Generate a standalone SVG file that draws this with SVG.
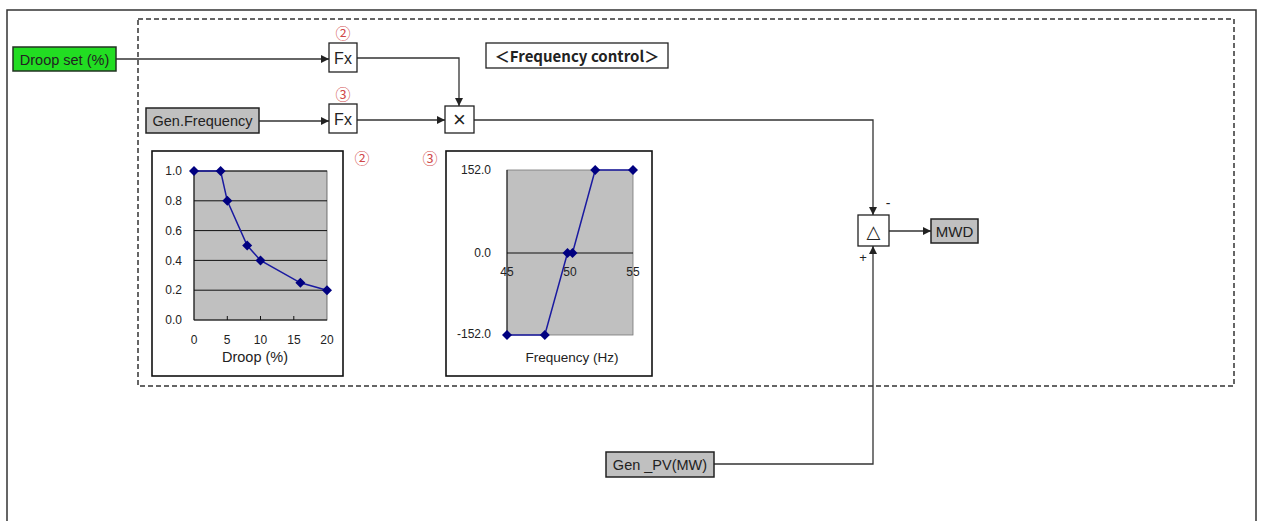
<svg xmlns="http://www.w3.org/2000/svg" width="1261" height="521" viewBox="0 0 1261 521">
<style>
text{font-family:"Liberation Sans",Arial,sans-serif;fill:#222}
.blk{fill:#fff;stroke:#222;stroke-width:1.3}
.gry{fill:#c0c0c0;stroke:#222;stroke-width:1.5}
.lbl{font-size:14.5px;text-anchor:middle}
.num{font-family:"Noto Sans CJK JP","DejaVu Sans",sans-serif;font-size:15px;fill:#d04848;text-anchor:middle}
.con{fill:none;stroke:#333;stroke-width:1.3}
.tk{font-size:12px}
.grid{stroke:#111;stroke-width:1}
.curve{fill:none;stroke:#1a1aa0;stroke-width:1.5}
.frame{fill:#fff;stroke:#111;stroke-width:1.6}
</style>
<defs>
<marker id="arr" viewBox="0 0 10 10" refX="10" refY="5" markerWidth="8" markerHeight="8" markerUnits="userSpaceOnUse" orient="auto">
<path d="M0,0 L10,5 L0,10 z" fill="#222"/>
</marker>
<path id="dia" d="M0,-5 L5,0 L0,5 L-5,0 z" fill="#000080"/>
</defs>
<rect width="1261" height="521" fill="#fff"/>
<g id="outer-frame"><path d="M7,525 V10 H1256 V525" fill="none" stroke="#333" stroke-width="1.5"/></g>
<g id="frequency-area"><rect x="138" y="19" width="1096" height="367" fill="none" stroke="#333" stroke-width="1.5" stroke-dasharray="5,3"/></g>
<g id="title"><rect x="486" y="43" width="182" height="25" fill="#fff" stroke="#222" stroke-width="1.3"/><text x="577" y="61.5" font-size="15" font-weight="bold" text-anchor="middle" style="font-family:'Noto Sans CJK JP','DejaVu Sans',sans-serif">＜Frequency control＞</text></g>
<g id="connectors">
<path class="con" d="M116,59 H329" marker-end="url(#arr)"/>
<path class="con" d="M259,121 H329" marker-end="url(#arr)"/>
<path class="con" d="M357,58 H459 V106" marker-end="url(#arr)"/>
<path class="con" d="M357,120 H445" marker-end="url(#arr)"/>
<path class="con" d="M474,120 H873 V215" marker-end="url(#arr)"/>
<path class="con" d="M889,231 H931" marker-end="url(#arr)"/>
<path class="con" d="M714,464 H873 V246" marker-end="url(#arr)"/>
</g>
<g id="droop-set"><rect x="13" y="47" width="103" height="24" fill="#22dd22" stroke="#223322" stroke-width="1.5"/><text class="lbl" x="64.5" y="64.5">Droop set (%)</text></g>
<g id="gen-frequency"><rect class="gry" x="146" y="108" width="113" height="25"/><text class="lbl" x="202.5" y="126">Gen.Frequency</text></g>
<g id="fx1"><rect class="blk" x="329" y="43" width="28" height="29"/><text x="343" y="63.5" font-size="16" text-anchor="middle">Fx</text><text class="num" x="343" y="39">②</text></g>
<g id="fx2"><rect class="blk" x="329" y="104" width="28" height="29"/><text x="343" y="124.5" font-size="16" text-anchor="middle">Fx</text><text class="num" x="343" y="100">③</text></g>
<g id="multiply"><rect class="blk" x="445" y="106" width="29" height="27"/><text x="459.5" y="127" font-size="22" text-anchor="middle">×</text></g>
<g id="delta"><rect class="blk" x="858" y="215" width="31" height="31"/><text x="873.5" y="238" font-size="18" text-anchor="middle" style="font-family:'DejaVu Sans',sans-serif">△</text><text x="888" y="208" font-size="14" text-anchor="middle">-</text><text x="863" y="262" font-size="13" text-anchor="middle">+</text></g>
<g id="mwd"><rect class="gry" x="931" y="219" width="47" height="24"/><text class="lbl" x="954.5" y="236.5" style="font-size:15px">MWD</text></g>
<g id="gen-pv"><rect class="gry" x="606" y="452" width="108" height="25"/><text class="lbl" x="660" y="470">Gen _PV(MW)</text></g>
<g id="chart-droop">
<rect class="frame" x="152" y="151" width="191" height="225"/>
<rect x="194" y="171" width="133" height="149" fill="#c0c0c0" stroke="#555" stroke-width="0.8"/>
<path class="grid" d="M194,171 H327 M194,200.8 H327 M194,230.6 H327 M194,260.4 H327 M194,290.2 H327 M194,320 H327 M194,171 V320 M227.3,320 V316 M260.5,320 V316 M293.8,320 V316"/>
<g class="tk" text-anchor="end">
<text x="182" y="175">1.0</text><text x="182" y="205">0.8</text><text x="182" y="234.5">0.6</text><text x="182" y="264.5">0.4</text><text x="182" y="294">0.2</text><text x="182" y="324">0.0</text>
</g>
<g class="tk" text-anchor="middle">
<text x="194" y="344">0</text><text x="227" y="344">5</text><text x="260.5" y="344">10</text><text x="294" y="344">15</text><text x="327" y="344">20</text>
</g>
<text x="255" y="362" font-size="14.5" text-anchor="middle">Droop (%)</text>
<polyline class="curve" points="194,171 220.6,171 227.3,200.8 247.2,245.5 260.5,260.4 300.4,282.8 327,290.2"/>
<use href="#dia" x="194" y="171"/><use href="#dia" x="220.6" y="171"/><use href="#dia" x="227.3" y="200.8"/><use href="#dia" x="247.2" y="245.5"/><use href="#dia" x="260.5" y="260.4"/><use href="#dia" x="300.4" y="282.8"/><use href="#dia" x="327" y="290.2"/>
<text class="num" x="362" y="164">②</text>
</g>
<g id="chart-frequency">
<rect class="frame" x="446" y="151" width="206" height="225"/>
<rect x="507" y="170" width="126" height="165" fill="#c0c0c0" stroke="#777" stroke-width="0.8"/>
<path class="grid" d="M507,170 V335 M507,253 H633"/>
<g class="tk" text-anchor="end">
<text x="491" y="174">152.0</text><text x="491" y="257">0.0</text><text x="491" y="338">-152.0</text>
</g>
<g class="tk" text-anchor="middle">
<text x="507" y="276">45</text><text x="570" y="276">50</text><text x="633" y="276">55</text>
</g>
<text x="572" y="362" font-size="13.5" text-anchor="middle">Frequency (Hz)</text>
<polyline class="curve" points="507,335 544.8,335 567.5,253 572.5,253 595.2,170 633,170"/>
<use href="#dia" x="507" y="335"/><use href="#dia" x="544.8" y="335"/><use href="#dia" x="567.5" y="253"/><use href="#dia" x="572.5" y="253"/><use href="#dia" x="595.2" y="170"/><use href="#dia" x="633" y="170"/>
<text class="num" x="430" y="164">③</text>
</g>
</svg>
